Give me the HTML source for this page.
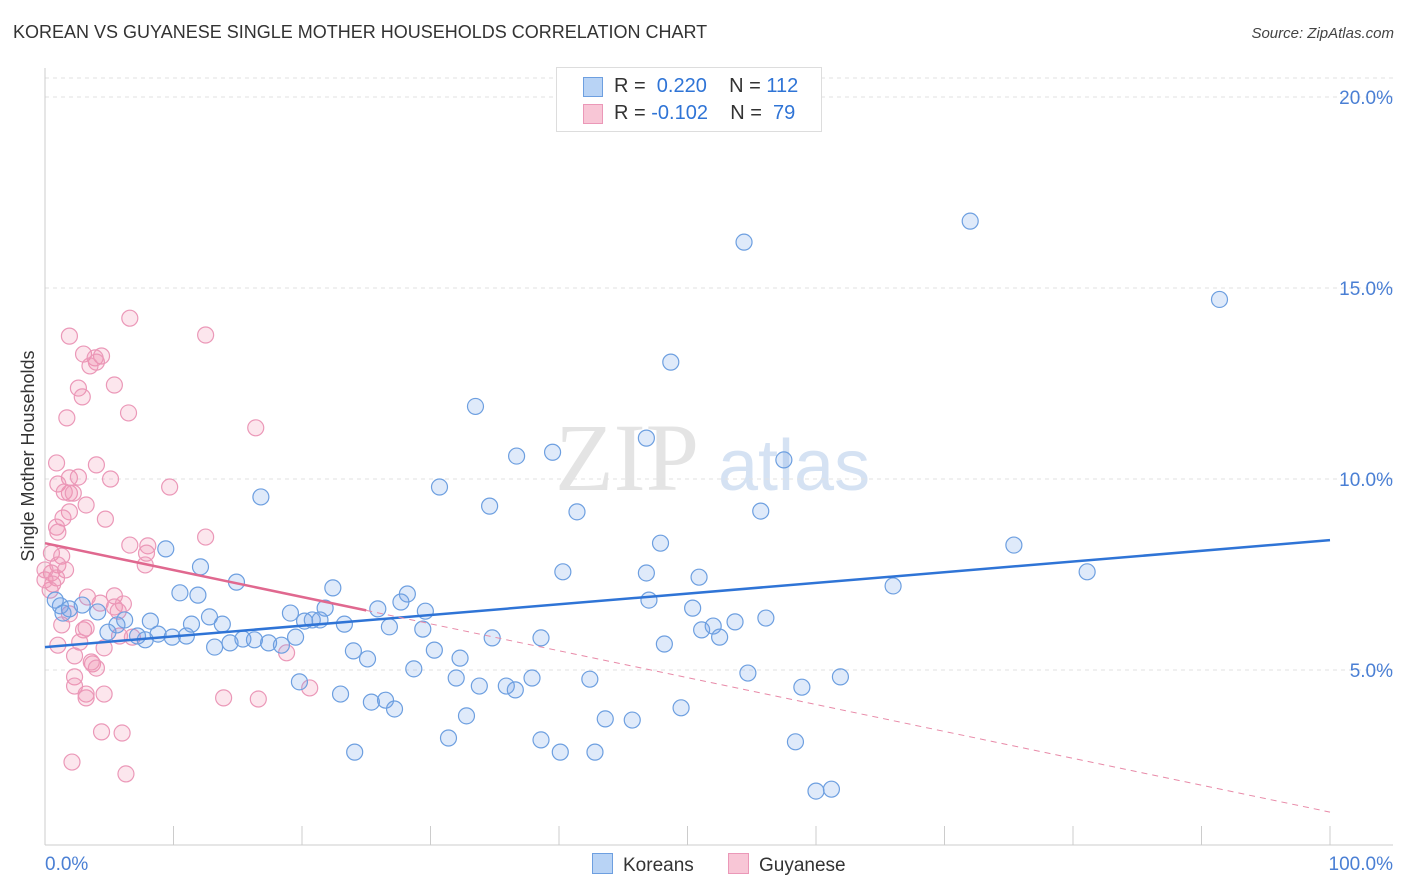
<!DOCTYPE html>
<html><head><meta charset="utf-8">
<style>
body{margin:0;background:#fff;font-family:"Liberation Sans",sans-serif;}
#wrap{position:relative;width:1406px;height:892px;overflow:hidden;}
.t{position:absolute;white-space:nowrap;}
</style></head>
<body>
<div id="wrap">
<div class="t" style="left:13px;top:22px;font-size:18px;color:#333;">KOREAN VS GUYANESE SINGLE MOTHER HOUSEHOLDS CORRELATION CHART</div>
<div class="t" style="right:12px;top:25px;font-size:15px;color:#444;font-style:italic;">Source: ZipAtlas.com</div>
<svg id="svg" width="1406" height="892" style="position:absolute;left:0;top:0"></svg>
</div>
<script>
const koreanX=[72.0,54.4,91.4,48.7,33.5,46.8,36.7,39.5,57.5,16.8,30.7,34.6,41.4,55.7,75.4,47.9,9.4,12.1,40.3,46.8,50.9,81.1,14.9,22.4,66.0,10.5,11.9,28.2,27.7,47.0,29.6,25.9,21.8,19.1,8.2,6.2,5.6,4.1,1.2,1.9,2.9,1.4,4.9,7.2,7.8,8.8,9.9,11.0,12.8,13.8,11.4,13.2,14.4,15.4,16.3,17.4,18.4,19.5,20.2,20.8,21.4,23.3,26.8,29.4,34.8,38.6,51.1,52.0,53.7,56.1,50.4,52.5,48.2,24.0,25.1,30.3,32.3,28.7,32.0,37.9,42.4,54.7,61.9,19.8,23.0,25.4,26.5,27.2,33.8,35.9,36.6,58.9,49.5,32.8,43.6,45.7,31.4,38.6,40.1,24.1,42.8,58.4,60.0,61.2,0.8];
const koreanY=[16.75,16.2,14.7,13.06,11.9,11.07,10.6,10.7,10.5,9.53,9.79,9.29,9.14,9.16,8.27,8.32,8.17,7.70,7.57,7.54,7.43,7.57,7.30,7.15,7.20,7.02,6.96,6.99,6.78,6.83,6.54,6.60,6.62,6.49,6.28,6.31,6.18,6.52,6.68,6.60,6.70,6.49,5.99,5.89,5.79,5.94,5.86,5.89,6.39,6.20,6.20,5.60,5.71,5.81,5.79,5.71,5.65,5.86,6.28,6.31,6.31,6.20,6.13,6.07,5.84,5.84,6.05,6.15,6.26,6.36,6.62,5.86,5.68,5.50,5.29,5.52,5.31,5.03,4.79,4.79,4.76,4.92,4.82,4.69,4.37,4.16,4.21,3.98,4.58,4.58,4.48,4.55,4.01,3.80,3.72,3.69,3.22,3.17,2.85,2.85,2.85,3.12,1.83,1.88,6.83];
const guyX=[6.6,12.5,1.9,3.0,4.4,3.9,4.0,3.5,2.6,5.4,2.9,1.7,6.5,16.4,0.9,4.0,1.9,2.6,5.1,1.0,9.7,1.9,1.5,2.2,3.2,1.9,1.4,4.7,0.9,1.0,12.5,6.6,8.0,7.9,0.5,1.3,7.8,1.0,1.6,0.5,0.9,0.6,0.4,3.3,5.4,4.3,5.4,6.1,5.7,1.9,1.3,3.0,5.8,6.8,3.2,2.7,4.6,1.0,2.3,3.7,3.6,4.0,2.3,2.3,3.2,3.2,4.6,13.9,16.6,20.6,18.8,4.4,6.0,2.1,6.3,0.0,0.0];
const guyY=[14.21,13.77,13.74,13.27,13.22,13.17,13.06,12.96,12.38,12.46,12.15,11.60,11.73,11.34,10.42,10.37,10.03,10.05,10.00,9.87,9.79,9.63,9.66,9.63,9.32,9.14,8.98,8.95,8.74,8.61,8.48,8.27,8.25,8.06,8.06,7.98,7.75,7.75,7.62,7.54,7.41,7.25,7.09,6.91,6.94,6.75,6.65,6.73,6.54,6.47,6.18,6.05,5.89,5.86,6.10,5.73,5.58,5.65,5.37,5.16,5.21,5.05,4.82,4.58,4.37,4.27,4.37,4.27,4.24,4.53,5.45,3.38,3.35,2.59,2.28,7.36,7.62];
const koreanTrend=[5.60,8.40];
const guyTrend=[8.32,1.28];
const guySolidEnd=25;
const yTicks=[5,10,15,20];
const yTickLabels=["5.0%","10.0%","15.0%","20.0%"];
const xTickLabels=["0.0%","100.0%"];

const X=v=>45+v*12.85, Y=v=>861-v*38.2;
const svg=document.getElementById('svg');
const NS='http://www.w3.org/2000/svg';
function mk(tag,a,parent){const e=document.createElementNS(NS,tag);for(const k in a)e.setAttribute(k,a[k]);(parent||svg).appendChild(e);return e;}

let wm=mk('text',{x:555,y:490,'font-size':96,'font-family':'Liberation Serif',fill:'#e4e4e4'});wm.textContent='ZIP';


let wm2=mk('text',{x:718,y:490,'font-size':72,'font-family':'Liberation Sans',fill:'#d5e2f3'});wm2.textContent='atlas';



let topGrid=mk('line',{x1:45,x2:1393,y1:78,y2:78,stroke:'#e2e2e2','stroke-dasharray':'4,4'});


yTicks.forEach((t,i)=>{
 const g=mk('line',{x1:45,x2:1393,y1:Y(t),y2:Y(t),stroke:'#e2e2e2','stroke-dasharray':'4,4'});
 
 
 const l=mk('text',{x:1393,y:Y(t)+7,'text-anchor':'end','font-size':19,fill:'#4a7fd4'});l.textContent=yTickLabels[i];
 
 
});
let ya=mk('line',{x1:45,x2:45,y1:68,y2:845,stroke:'#ccc'});


let xa=mk('line',{x1:45,x2:1393,y1:845,y2:845,stroke:'#ccc'});


for(let i=0;i<=10;i++){const tk=mk('line',{x1:X(i*10),x2:X(i*10),y1:826,y2:845,stroke:'#ccc'});
 
 }
let xl0=mk('text',{x:45,y:870,'font-size':19,fill:'#4a7fd4'});xl0.textContent=xTickLabels[0];


let xl1=mk('text',{x:1393,y:870,'text-anchor':'end','font-size':19,fill:'#4a7fd4'});xl1.textContent=xTickLabels[1];


let yt=mk('text',{x:34,y:456,'font-size':18,fill:'#333','text-anchor':'middle',transform:'rotate(-90 34 456)'});yt.textContent='Single Mother Households';



guyX.forEach((x,i)=>{const c=mk('circle',{cx:X(x),cy:Y(guyY[i]),r:8,fill:'rgba(240,140,175,0.22)',stroke:'#eb98b8','stroke-width':1.2});
 
 });
koreanX.forEach((x,i)=>{const c=mk('circle',{cx:X(x),cy:Y(koreanY[i]),r:8,fill:'rgba(110,160,230,0.22)',stroke:'#6d9fe0','stroke-width':1.2});
 
 });

let kt=mk('line',{x1:X(0),y1:Y(koreanTrend[0]),x2:X(100),y2:Y(koreanTrend[1]),stroke:'#2f74d6','stroke-width':2.5});


const gAt=v=>guyTrend[0]+(guyTrend[1]-guyTrend[0])*v/100;
let gt=mk('line',{x1:X(0),y1:Y(gAt(0)),x2:X(guySolidEnd),y2:Y(gAt(guySolidEnd)),stroke:'#e0688f','stroke-width':2.5});


let gd=mk('line',{x1:X(guySolidEnd),y1:Y(gAt(guySolidEnd)),x2:X(100),y2:Y(gAt(100)),stroke:'#e88aa8','stroke-width':1,'stroke-dasharray':'6,5'});


</script>
<div class="t" style="left:556px;top:67px;width:264px;height:63px;border:1px solid #ddd;background:#fff;font-size:20px;color:#333;">
 <div style="position:absolute;left:26px;top:9px;width:18px;height:18px;background:#b8d3f5;border:1px solid #6d9fe0;"></div>
 <div class="t" style="left:57px;top:7px;">R = <span style="color:#2f74d6">&nbsp;0.220</span>&nbsp;&nbsp;&nbsp; N = <span style="color:#2f74d6">112</span></div>
 <div style="position:absolute;left:26px;top:36px;width:18px;height:18px;background:#f8c6d6;border:1px solid #eb98b8;"></div>
 <div class="t" style="left:57px;top:34px;">R = <span style="color:#2f74d6">-0.102</span>&nbsp;&nbsp;&nbsp; N = <span style="color:#2f74d6">&nbsp;79</span></div>
</div>
<div class="t" style="left:592px;top:853px;font-size:19px;color:#333;"><span style="display:inline-block;width:19px;height:19px;background:#b8d3f5;border:1px solid #6d9fe0;vertical-align:-3px;margin-right:10px;"></span>Koreans</div>
<div class="t" style="left:728px;top:853px;font-size:19px;color:#333;"><span style="display:inline-block;width:19px;height:19px;background:#f8c6d6;border:1px solid #eb98b8;vertical-align:-3px;margin-right:10px;"></span>Guyanese</div>
</body></html>
